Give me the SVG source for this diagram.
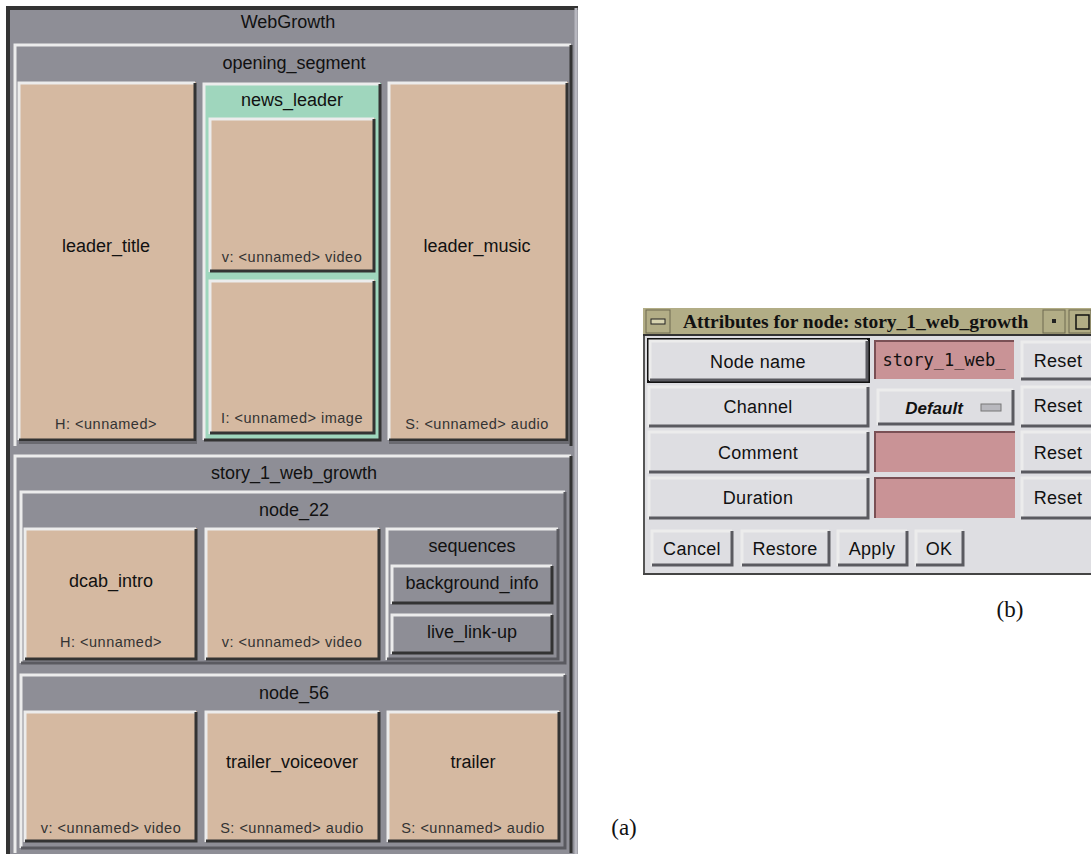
<svg xmlns="http://www.w3.org/2000/svg" width="1091" height="857" viewBox="0 0 1091 857">
<style>
text{font-family:"Liberation Sans",Arial,sans-serif;fill:#111}
.t{font-size:18px;text-anchor:middle}
.s{font-size:14.5px;letter-spacing:0.5px;text-anchor:middle;fill:#333}
.grey{fill:#8e8e96}
.tan{fill:#d5b9a1}
.teal{fill:#9fd6bd}
.lt{fill:#dedee2}
.pink{fill:#c99396}
.hl{fill:none;stroke:#ececec;stroke-width:3}
.sh{fill:none;stroke:#333;stroke-width:3}
.sh2{fill:none;stroke:#5a5a60;stroke-width:3}
.d{font-size:18px;letter-spacing:0.3px;text-anchor:middle}
.serif{font-family:"Liberation Serif","Times New Roman",serif;font-size:23px;text-anchor:middle}
</style>
<rect width="1091" height="857" fill="#fff"/>
<g id="webgrowth">
<rect x="6" y="7" width="572" height="847" class="grey"/>
<path d="M8,854 V8 H578" fill="none" stroke="#333" stroke-width="4"/>
<path d="M576,8 V854" fill="none" stroke="#b8b8c0" stroke-width="3"/>
<text x="288" y="28" class="t">WebGrowth</text>
</g>
<g id="opening_segment">
<rect x="14" y="44" width="558" height="402" class="grey"/>
<path d="M15,446 V45 H571" class="hl"/>
<path d="M571,45 V446" class="sh"/>
<text x="294" y="69" class="t">opening_segment</text>
</g>
<g id="leader_title">
<rect x="18" y="82" width="178" height="358" class="tan"/>
<path d="M19,440 V83 H195" class="hl"/>
<path d="M195,83 V440 H19" class="sh"/>
<rect x="19" y="441" width="178" height="3" fill="#6a6a70"/>
<text x="106" y="252" class="t">leader_title</text>
<text x="106" y="429" class="s">H: &lt;unnamed&gt;</text>
</g>
<g id="news_leader">
<rect x="203" y="83" width="178" height="357" class="teal"/>
<path d="M204,440 V84 H380" class="hl"/>
<path d="M380,84 V440 H204" class="sh"/>
<text x="292" y="106" class="t">news_leader</text>
</g>
<g id="news_video">
<rect x="209" y="118" width="166" height="154" class="tan"/>
<path d="M210,272 V119 H374" class="hl"/>
<path d="M374,119 V271 H210" class="sh"/>
<text x="292" y="262" class="s">v: &lt;unnamed&gt; video</text>
</g>
<g id="news_image">
<rect x="209" y="280" width="166" height="154" class="tan"/>
<path d="M210,434 V281 H374" class="hl"/>
<path d="M374,281 V433 H210" class="sh"/>
<text x="292" y="423" class="s">I: &lt;unnamed&gt; image</text>
</g>
<g id="leader_music">
<rect x="388" y="82" width="180" height="358" class="tan"/>
<path d="M389,440 V83 H567" class="hl"/>
<path d="M567,83 V440 H389" class="sh"/>
<rect x="389" y="441" width="180" height="3" fill="#6a6a70"/>
<text x="477" y="252" class="t">leader_music</text>
<text x="477" y="429" class="s">S: &lt;unnamed&gt; audio</text>
</g>
<g id="story_1_web_growth">
<rect x="14" y="455" width="558" height="398" class="grey"/>
<path d="M15,853 V456 H571" class="hl"/>
<path d="M571,456 V853" class="sh"/>
<text x="294" y="479" class="t">story_1_web_growth</text>
</g>
<g id="node_22">
<rect x="20" y="491" width="546" height="172" class="grey"/>
<path d="M21,663 V492 H565" class="hl"/>
<path d="M565,492 V663 H21" class="sh2"/>
<text x="294" y="516" class="t">node_22</text>
</g>
<g id="dcab_intro">
<rect x="24" y="528" width="173" height="132" class="tan"/>
<path d="M25,660 V529 H196" class="hl"/>
<path d="M196,529 V659 H25" class="sh"/>
<text x="111" y="587" class="t">dcab_intro</text>
<text x="111" y="647" class="s">H: &lt;unnamed&gt;</text>
</g>
<g id="node_22_video">
<rect x="205" y="528" width="175" height="132" class="tan"/>
<path d="M206,660 V529 H379" class="hl"/>
<path d="M379,529 V659 H206" class="sh"/>
<text x="292" y="647" class="s">v: &lt;unnamed&gt; video</text>
</g>
<g id="sequences">
<rect x="386" y="528" width="173" height="132" class="grey"/>
<path d="M387,660 V529 H558" class="hl"/>
<path d="M558,529 V659 H387" class="sh2"/>
<text x="472" y="552" class="t">sequences</text>
</g>
<g id="background_info">
<rect x="391" y="565" width="162" height="39" class="grey"/>
<path d="M392,604 V566 H552" class="hl"/>
<path d="M552,566 V603 H392" class="sh"/>
<text x="472" y="589" class="t">background_info</text>
</g>
<g id="live_link-up">
<rect x="391" y="614" width="162" height="40" class="grey"/>
<path d="M392,654 V615 H552" class="hl"/>
<path d="M552,615 V653 H392" class="sh"/>
<text x="472" y="638" class="t">live_link-up</text>
</g>
<g id="node_56">
<rect x="20" y="674" width="546" height="174" class="grey"/>
<path d="M21,848 V675 H565" class="hl"/>
<path d="M565,675 V848 H21" class="sh2"/>
<text x="294" y="699" class="t">node_56</text>
</g>
<g id="node_56_video">
<rect x="24" y="711" width="173" height="131" class="tan"/>
<path d="M25,842 V712 H196" class="hl"/>
<path d="M196,712 V841 H25" class="sh"/>
<text x="111" y="833" class="s">v: &lt;unnamed&gt; video</text>
</g>
<g id="trailer_voiceover">
<rect x="205" y="711" width="175" height="131" class="tan"/>
<path d="M206,842 V712 H379" class="hl"/>
<path d="M379,712 V841 H206" class="sh"/>
<text x="292" y="768" class="t">trailer_voiceover</text>
<text x="292" y="833" class="s">S: &lt;unnamed&gt; audio</text>
</g>
<g id="trailer">
<rect x="387" y="711" width="173" height="131" class="tan"/>
<path d="M388,842 V712 H559" class="hl"/>
<path d="M559,712 V841 H388" class="sh"/>
<text x="473" y="768" class="t">trailer</text>
<text x="473" y="833" class="s">S: &lt;unnamed&gt; audio</text>
</g>
<text x="624" y="835" class="serif">(a)</text>

<g id="dialog">
<rect x="643" y="308" width="448" height="267" class="lt"/>
<path d="M644,575 V309" fill="none" stroke="#555" stroke-width="2"/>
<path d="M643,574 H1091" fill="none" stroke="#444" stroke-width="2"/>
</g>
<g id="titlebar">
<rect x="643" y="308" width="448" height="27" fill="#b2ad86"/>
<path d="M643,335 H1091" stroke="#333" stroke-width="2"/>
<rect x="646" y="310" width="24" height="23" fill="#b2ad86" stroke="#6e6a50"/>
<rect x="651" y="319" width="14" height="5" fill="#d8d4b0" stroke="#222"/>
<text x="683" y="328" style="font-family:'Liberation Serif','Times New Roman',serif;font-size:19.5px;font-weight:bold">Attributes for node: story_1_web_growth</text>
<rect x="1043" y="310" width="22" height="23" fill="#b2ad86" stroke="#6e6a50"/>
<rect x="1052" y="319" width="4" height="4" fill="#222"/>
<rect x="1069" y="310" width="22" height="23" fill="#b2ad86" stroke="#6e6a50"/>
<rect x="1076" y="315" width="13" height="14" fill="none" stroke="#111" stroke-width="1.5"/>
</g>
<g id="row_node_name">
<rect x="648" y="339" width="221" height="43" class="lt" stroke="#111" stroke-width="2"/>
<path d="M650,380 V341 H867" class="hl"/>
<path d="M867,341 V380 H650" class="sh2"/>
<text x="758" y="368" class="d">Node name</text>
<rect x="875" y="341" width="139" height="38" class="pink"/>
<path d="M875,379 V341 H1014" fill="none" stroke="#7a5055" stroke-width="2"/>
<text x="944" y="366" style="font-family:'DejaVu Sans Mono','Liberation Mono',monospace;font-size:17px;text-anchor:middle">story_1_web_</text>
<rect x="1021" y="341" width="70" height="38" class="lt"/>
<path d="M1022,379 V342 H1091" class="hl"/>
<path d="M1021,379 H1091" class="sh2"/>
<text x="1058" y="367" class="d">Reset</text>
</g>
<g id="row_channel">
<rect x="648" y="386" width="221" height="41" class="lt"/>
<path d="M649,427 V387 H868" class="hl"/>
<path d="M868,387 V426 H649" class="sh2"/>
<text x="758" y="413" class="d">Channel</text>
<rect x="877" y="389" width="137" height="36" class="lt"/>
<path d="M878,425 V390 H1013" class="hl"/>
<path d="M1013,390 V424 H878" class="sh2"/>
<text x="934" y="414" style="font-family:'Liberation Sans',Arial,sans-serif;font-size:17px;font-weight:bold;font-style:italic;text-anchor:middle">Default</text>
<rect x="981" y="404" width="20" height="7" fill="#b8b8be" stroke="#777"/>
<rect x="1021" y="386" width="70" height="41" class="lt"/>
<path d="M1022,427 V387 H1091" class="hl"/>
<path d="M1021,426 H1091" class="sh2"/>
<text x="1058" y="412" class="d">Reset</text>
</g>
<g id="row_comment">
<rect x="648" y="431" width="221" height="42" class="lt"/>
<path d="M649,473 V432 H868" class="hl"/>
<path d="M868,432 V472 H649" class="sh2"/>
<text x="758" y="459" class="d">Comment</text>
<rect x="875" y="432" width="140" height="40" class="pink"/>
<path d="M875,472 V432 H1015" fill="none" stroke="#7a5055" stroke-width="2"/>
<rect x="1021" y="431" width="70" height="42" class="lt"/>
<path d="M1022,473 V432 H1091" class="hl"/>
<path d="M1021,472 H1091" class="sh2"/>
<text x="1058" y="459" class="d">Reset</text>
</g>
<g id="row_duration">
<rect x="648" y="477" width="221" height="42" class="lt"/>
<path d="M649,519 V478 H868" class="hl"/>
<path d="M868,478 V518 H649" class="sh2"/>
<text x="758" y="504" class="d">Duration</text>
<rect x="875" y="478" width="140" height="40" class="pink"/>
<path d="M875,518 V478 H1015" fill="none" stroke="#7a5055" stroke-width="2"/>
<rect x="1021" y="477" width="70" height="42" class="lt"/>
<path d="M1022,519 V478 H1091" class="hl"/>
<path d="M1021,518 H1091" class="sh2"/>
<text x="1058" y="504" class="d">Reset</text>
</g>
<g id="buttons">
<rect x="651" y="530" width="82" height="36" class="lt"/>
<path d="M652,566 V531 H732" class="hl"/>
<path d="M732,531 V565 H652" class="sh2"/>
<text x="692" y="555" class="d">Cancel</text>
<rect x="741" y="530" width="89" height="36" class="lt"/>
<path d="M742,566 V531 H829" class="hl"/>
<path d="M829,531 V565 H742" class="sh2"/>
<text x="785" y="555" class="d">Restore</text>
<rect x="837" y="530" width="71" height="36" class="lt"/>
<path d="M838,566 V531 H907" class="hl"/>
<path d="M907,531 V565 H838" class="sh2"/>
<text x="872" y="555" class="d">Apply</text>
<rect x="915" y="530" width="49" height="36" class="lt"/>
<path d="M916,566 V531 H963" class="hl"/>
<path d="M963,531 V565 H916" class="sh2"/>
<text x="939" y="555" class="d">OK</text>
</g>
<text x="1010" y="617" class="serif">(b)</text>
</svg>
